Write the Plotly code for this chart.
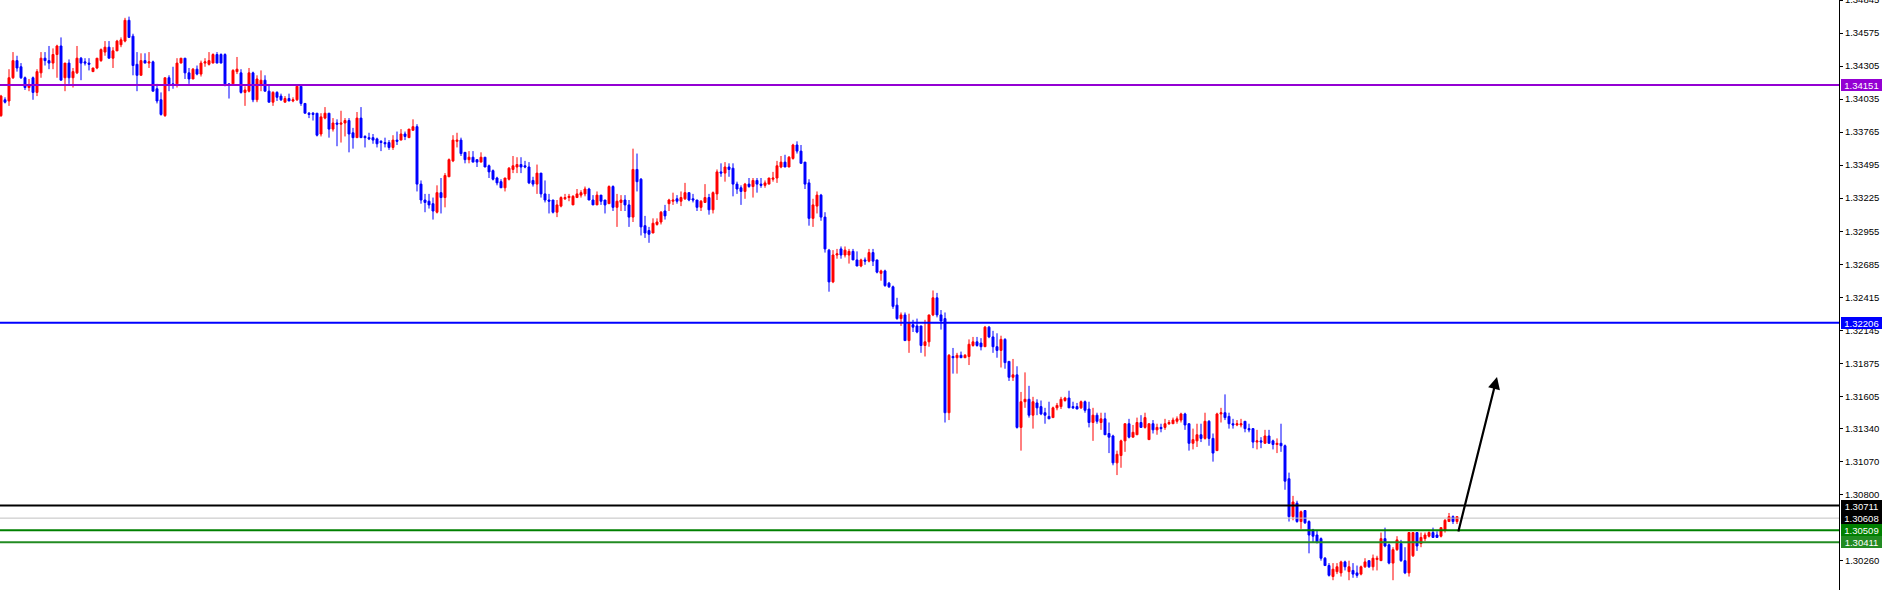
import plotly.graph_objects as go

# ---- OHLC data ----
open_ = [1.3390,1.3403,1.3402,1.3421,1.3435,1.3430,1.3421,1.3413,1.3421,1.3409,
1.3425,1.3437,1.3435,1.3433,1.3440,1.3447,1.3421,1.3433,1.3421,1.3425,
1.3437,1.3434,1.3433,1.3426,1.3429,1.3435,1.3442,1.3446,1.3437,1.3443,
1.3448,1.3451,1.3468,1.3455,1.3432,1.3423,1.3435,1.3433,1.3434,1.3412,
1.3403,1.3390,1.3421,1.3416,1.3416,1.3433,1.3437,1.3425,1.3420,1.3428,
1.3424,1.3433,1.3432,1.3433,1.3440,1.3440,1.3440,1.3416,1.3416,1.3426,
1.3425,1.3409,1.3410,1.3425,1.3403,1.3415,1.3419,1.3410,1.3401,1.3409,
1.3406,1.3401,1.3404,1.3402,1.3403,1.3414,1.3400,1.3392,1.3392,1.3392,
1.3375,1.3388,1.3392,1.3379,1.3384,1.3383,1.3384,1.3386,1.3376,1.3372,
1.3388,1.3373,1.3372,1.3372,1.3371,1.3369,1.3368,1.3368,1.3364,1.3370,
1.3370,1.3375,1.3372,1.3378,1.3381,1.3334,1.3321,1.3320,1.3318,1.3311,
1.3327,1.3323,1.3340,1.3353,1.3369,1.3370,1.3360,1.3354,1.3356,1.3354,
1.3352,1.3356,1.3349,1.3345,1.3339,1.3336,1.3331,1.3338,1.3346,1.3348,
1.3350,1.3349,1.3348,1.3337,1.3334,1.3343,1.3326,1.3321,1.3321,1.3311,
1.3316,1.3322,1.3323,1.3317,1.3323,1.3325,1.3326,1.3330,1.3321,1.3317,
1.3325,1.3321,1.3318,1.3332,1.3315,1.3319,1.3321,1.3317,1.3307,1.3346,
1.3338,1.3300,1.3296,1.3294,1.3301,1.3303,1.3312,1.3318,1.3320,1.3322,
1.3320,1.3322,1.3327,1.3322,1.3321,1.3315,1.3319,1.3323,1.3313,1.3326,
1.3344,1.3343,1.3348,1.3347,1.3334,1.3331,1.3328,1.3334,1.3332,1.3337,
1.3334,1.3333,1.3334,1.3338,1.3339,1.3348,1.3352,1.3348,1.3355,1.3366,
1.3361,1.3352,1.3335,1.3306,1.3316,1.3325,1.3307,1.3280,1.3254,1.3276,
1.3281,1.3276,1.3276,1.3279,1.3272,1.3267,1.3272,1.3271,1.3278,1.3272,
1.3261,1.3263,1.3253,1.3250,1.3235,1.3224,1.3227,1.3206,1.3219,1.3218,
1.3218,1.3202,1.3205,1.3227,1.3241,1.3227,1.3224,1.3147,1.3193,1.3192,
1.3194,1.3192,1.3193,1.3202,1.3205,1.3204,1.3201,1.3217,1.3209,1.3201,
1.3198,1.3207,1.3189,1.3176,1.3178,1.3135,1.3156,1.3158,1.3145,1.3155,
1.3152,1.3147,1.3144,1.3143,1.3151,1.3152,1.3157,1.3159,1.3152,1.3152,
1.3151,1.3156,1.3150,1.3139,1.3145,1.3139,1.3142,1.3130,1.3128,1.3106,
1.3112,1.3124,1.3138,1.3127,1.3129,1.3139,1.3135,1.3125,1.3138,1.3133,
1.3135,1.3135,1.3138,1.3138,1.3140,1.3141,1.3146,1.3138,1.3122,1.3124,
1.3129,1.3126,1.3140,1.3126,1.3116,1.3146,1.3147,1.3144,1.3138,1.3137,
1.3137,1.3140,1.3134,1.3134,1.3123,1.3124,1.3122,1.3128,1.3124,1.3121,
1.3122,1.3120,1.3093,1.3062,1.3073,1.3058,1.3067,1.3058,1.3051,1.3047,
1.3044,1.3028,1.3022,1.3013,1.3017,1.3016,1.3025,1.3017,1.3018,1.3016,
1.3015,1.3021,1.3026,1.3021,1.3027,1.3026,1.3044,1.3039,1.3024,1.3035,
1.3040,1.3026,1.3016,1.3030,1.3049,1.3040,1.3044,1.3046,1.3049,1.3047,
1.3046,1.3051,1.3058,1.3062,1.3058]

high = [1.3407,1.3405,1.3428,1.3442,1.3439,1.3433,1.3422,1.3420,1.3422,1.3428,
1.3442,1.3442,1.3447,1.3445,1.3448,1.3454,1.3433,1.3436,1.3429,1.3447,
1.3438,1.3437,1.3437,1.3429,1.3437,1.3445,1.3451,1.3451,1.3446,1.3452,
1.3454,1.3470,1.3471,1.3457,1.3442,1.3441,1.3441,1.3442,1.3435,1.3416,
1.3409,1.3421,1.3423,1.3430,1.3437,1.3437,1.3437,1.3429,1.3429,1.3431,
1.3435,1.3437,1.3442,1.3441,1.3442,1.3441,1.3441,1.3416,1.3428,1.3438,
1.3428,1.3414,1.3429,1.3426,1.3423,1.3427,1.3423,1.3415,1.3410,1.3410,
1.3408,1.3406,1.3408,1.3405,1.3415,1.3414,1.3400,1.3393,1.3393,1.3392,
1.3392,1.3397,1.3392,1.3388,1.3387,1.3394,1.3388,1.3388,1.3380,1.3393,
1.3397,1.3374,1.3376,1.3375,1.3372,1.3370,1.3372,1.3370,1.3374,1.3377,
1.3379,1.3377,1.3379,1.3387,1.3383,1.3337,1.3326,1.3326,1.3323,1.3333,
1.3339,1.3343,1.3355,1.3374,1.3376,1.3372,1.3360,1.3361,1.3361,1.3354,
1.3360,1.3356,1.3350,1.3346,1.3340,1.3338,1.3339,1.3348,1.3357,1.3356,
1.3356,1.3353,1.3352,1.3340,1.3350,1.3343,1.3337,1.3326,1.3321,1.3321,
1.3324,1.3326,1.3326,1.3325,1.3330,1.3329,1.3332,1.3331,1.3325,1.3328,
1.3325,1.3321,1.3333,1.3333,1.3326,1.3325,1.3325,1.3321,1.3363,1.3359,
1.3339,1.3308,1.3299,1.3306,1.3306,1.3312,1.3317,1.3322,1.3327,1.3325,
1.3328,1.3335,1.3327,1.3326,1.3321,1.3321,1.3334,1.3326,1.3328,1.3346,
1.3351,1.3352,1.3351,1.3351,1.3336,1.3333,1.3335,1.3339,1.3339,1.3339,
1.3339,1.3337,1.3339,1.3344,1.3353,1.3357,1.3358,1.3357,1.3367,1.3369,
1.3366,1.3352,1.3338,1.3322,1.3328,1.3326,1.3311,1.3281,1.3280,1.3281,
1.3283,1.3283,1.3281,1.3281,1.3279,1.3273,1.3274,1.3281,1.3281,1.3272,
1.3264,1.3264,1.3254,1.3251,1.3241,1.3229,1.3229,1.3228,1.3223,1.3224,
1.3218,1.3223,1.3227,1.3247,1.3245,1.3231,1.3229,1.3195,1.3200,1.3196,
1.3197,1.3195,1.3207,1.3209,1.3209,1.3208,1.3218,1.3218,1.3214,1.3212,
1.3210,1.3208,1.3189,1.3191,1.3185,1.3164,1.3180,1.3169,1.3160,1.3158,
1.3157,1.3151,1.3156,1.3152,1.3155,1.3160,1.3160,1.3165,1.3156,1.3155,
1.3157,1.3157,1.3156,1.3151,1.3147,1.3147,1.3147,1.3139,1.3129,1.3116,
1.3125,1.3138,1.3142,1.3137,1.3143,1.3145,1.3147,1.3138,1.3141,1.3138,
1.3138,1.3142,1.3141,1.3143,1.3144,1.3147,1.3147,1.3138,1.3134,1.3138,
1.3138,1.3147,1.3141,1.3130,1.3147,1.3151,1.3162,1.3147,1.3142,1.3141,
1.3142,1.3140,1.3138,1.3134,1.3133,1.3127,1.3133,1.3133,1.3125,1.3126,
1.3138,1.3121,1.3098,1.3079,1.3075,1.3067,1.3067,1.3059,1.3052,1.3051,
1.3045,1.3029,1.3024,1.3024,1.3024,1.3026,1.3026,1.3026,1.3024,1.3022,
1.3022,1.3028,1.3026,1.3031,1.3030,1.3049,1.3053,1.3040,1.3037,1.3046,
1.3043,1.3037,1.3049,1.3049,1.3049,1.3049,1.3049,1.3050,1.3053,1.3050,
1.3053,1.3060,1.3065,1.3063,1.3062]

low = [1.3389,1.3400,1.3398,1.3420,1.3426,1.3420,1.3411,1.3410,1.3403,1.3406,
1.3421,1.3431,1.3428,1.3428,1.3421,1.3419,1.3410,1.3416,1.3413,1.3424,
1.3419,1.3431,1.3427,1.3426,1.3428,1.3434,1.3439,1.3437,1.3429,1.3446,
1.3446,1.3450,1.3454,1.3423,1.3410,1.3423,1.3433,1.3429,1.3410,1.3400,
1.3390,1.3389,1.3410,1.3412,1.3413,1.3433,1.3420,1.3416,1.3420,1.3423,
1.3422,1.3430,1.3431,1.3433,1.3433,1.3433,1.3414,1.3404,1.3415,1.3424,
1.3408,1.3398,1.3409,1.3401,1.3401,1.3410,1.3410,1.3401,1.3398,1.3402,
1.3402,1.3401,1.3402,1.3401,1.3402,1.3398,1.3392,1.3388,1.3386,1.3373,
1.3373,1.3387,1.3372,1.3377,1.3365,1.3368,1.3373,1.3360,1.3363,1.3372,
1.3372,1.3364,1.3370,1.3367,1.3364,1.3361,1.3364,1.3362,1.3362,1.3366,
1.3370,1.3370,1.3372,1.3378,1.3328,1.3318,1.3311,1.3314,1.3305,1.3310,
1.3310,1.3315,1.3340,1.3352,1.3364,1.3357,1.3351,1.3351,1.3352,1.3348,
1.3352,1.3348,1.3339,1.3337,1.3333,1.3331,1.3328,1.3337,1.3343,1.3343,
1.3343,1.3347,1.3334,1.3332,1.3326,1.3323,1.3319,1.3310,1.3310,1.3307,
1.3315,1.3321,1.3320,1.3317,1.3323,1.3323,1.3324,1.3321,1.3317,1.3317,
1.3317,1.3310,1.3318,1.3312,1.3299,1.3312,1.3312,1.3299,1.3303,1.3328,
1.3292,1.3290,1.3286,1.3294,1.3300,1.3301,1.3305,1.3312,1.3317,1.3318,
1.3316,1.3321,1.3320,1.3319,1.3312,1.3312,1.3319,1.3309,1.3310,1.3321,
1.3340,1.3336,1.3340,1.3324,1.3326,1.3317,1.3322,1.3331,1.3323,1.3327,
1.3331,1.3331,1.3334,1.3336,1.3335,1.3347,1.3348,1.3348,1.3354,1.3359,
1.3351,1.3330,1.3300,1.3299,1.3310,1.3304,1.3278,1.3246,1.3253,1.3273,
1.3273,1.3274,1.3269,1.3272,1.3267,1.3266,1.3268,1.3270,1.3267,1.3261,
1.3255,1.3250,1.3249,1.3232,1.3223,1.3218,1.3206,1.3196,1.3213,1.3212,
1.3196,1.3193,1.3201,1.3226,1.3225,1.3215,1.3139,1.3141,1.3179,1.3179,
1.3192,1.3192,1.3186,1.3201,1.3201,1.3198,1.3201,1.3208,1.3196,1.3192,
1.3184,1.3183,1.3173,1.3173,1.3134,1.3116,1.3151,1.3143,1.3134,1.3145,
1.3145,1.3138,1.3142,1.3143,1.3149,1.3150,1.3156,1.3151,1.3150,1.3150,
1.3150,1.3147,1.3135,1.3124,1.3138,1.3133,1.3129,1.3114,1.3104,1.3096,
1.3102,1.3115,1.3126,1.3127,1.3129,1.3135,1.3134,1.3125,1.3130,1.3129,
1.3131,1.3133,1.3137,1.3138,1.3138,1.3139,1.3133,1.3116,1.3117,1.3119,
1.3123,1.3125,1.3120,1.3107,1.3116,1.3139,1.3141,1.3134,1.3134,1.3136,
1.3135,1.3131,1.3131,1.3118,1.3117,1.3118,1.3122,1.3122,1.3117,1.3114,
1.3115,1.3084,1.3058,1.3059,1.3057,1.3052,1.3056,1.3032,1.3041,1.3040,
1.3026,1.3022,1.3013,1.3010,1.3015,1.3013,1.3018,1.3010,1.3012,1.3012,
1.3014,1.3020,1.3020,1.3018,1.3018,1.3026,1.3037,1.3023,1.3010,1.3034,
1.3025,1.3015,1.3013,1.3029,1.3034,1.3037,1.3042,1.3045,1.3045,1.3045,
1.3045,1.3049,1.3058,1.3056,1.3056]

close = [1.3406,1.3401,1.3421,1.3435,1.3429,1.3421,1.3413,1.3415,1.3409,1.3426,
1.3437,1.3435,1.3433,1.3440,1.3447,1.3419,1.3433,1.3421,1.3426,1.3437,
1.3433,1.3433,1.3432,1.3429,1.3437,1.3444,1.3446,1.3437,1.3443,1.3451,
1.3452,1.3468,1.3454,1.3431,1.3423,1.3435,1.3433,1.3434,1.3410,1.3402,
1.3391,1.3421,1.3416,1.3415,1.3433,1.3437,1.3425,1.3420,1.3428,1.3424,
1.3433,1.3434,1.3435,1.3440,1.3433,1.3433,1.3416,1.3415,1.3427,1.3428,
1.3409,1.3411,1.3425,1.3403,1.3420,1.3419,1.3410,1.3401,1.3409,1.3405,
1.3403,1.3404,1.3402,1.3403,1.3414,1.3400,1.3392,1.3391,1.3391,1.3374,
1.3389,1.3392,1.3379,1.3384,1.3383,1.3384,1.3386,1.3375,1.3372,1.3388,
1.3372,1.3372,1.3371,1.3370,1.3367,1.3368,1.3367,1.3364,1.3370,1.3369,
1.3375,1.3373,1.3379,1.3381,1.3334,1.3321,1.3319,1.3317,1.3312,1.3327,
1.3323,1.3341,1.3354,1.3370,1.3370,1.3359,1.3354,1.3356,1.3352,1.3352,
1.3356,1.3348,1.3344,1.3338,1.3335,1.3331,1.3339,1.3347,1.3349,1.3350,
1.3348,1.3348,1.3335,1.3334,1.3343,1.3326,1.3321,1.3320,1.3311,1.3317,
1.3323,1.3323,1.3324,1.3324,1.3326,1.3327,1.3330,1.3321,1.3317,1.3325,
1.3320,1.3317,1.3332,1.3315,1.3320,1.3321,1.3317,1.3307,1.3346,1.3336,
1.3299,1.3294,1.3293,1.3302,1.3303,1.3311,1.3308,1.3321,1.3321,1.3320,
1.3323,1.3327,1.3321,1.3321,1.3315,1.3320,1.3323,1.3313,1.3327,1.3344,
1.3343,1.3348,1.3346,1.3334,1.3330,1.3328,1.3334,1.3332,1.3337,1.3334,
1.3333,1.3335,1.3339,1.3339,1.3349,1.3352,1.3348,1.3356,1.3366,1.3361,
1.3351,1.3334,1.3306,1.3317,1.3325,1.3307,1.3281,1.3254,1.3276,1.3277,
1.3276,1.3280,1.3279,1.3272,1.3267,1.3272,1.3271,1.3278,1.3271,1.3262,
1.3263,1.3251,1.3250,1.3234,1.3224,1.3227,1.3206,1.3220,1.3217,1.3213,
1.3202,1.3205,1.3227,1.3241,1.3227,1.3222,1.3147,1.3194,1.3192,1.3194,
1.3192,1.3194,1.3203,1.3205,1.3202,1.3201,1.3217,1.3209,1.3201,1.3198,
1.3207,1.3188,1.3176,1.3178,1.3135,1.3156,1.3158,1.3145,1.3156,1.3151,
1.3146,1.3145,1.3142,1.3151,1.3153,1.3158,1.3159,1.3151,1.3151,1.3150,
1.3156,1.3149,1.3139,1.3145,1.3140,1.3142,1.3129,1.3127,1.3106,1.3113,
1.3124,1.3138,1.3127,1.3131,1.3139,1.3135,1.3143,1.3138,1.3133,1.3135,
1.3134,1.3138,1.3139,1.3141,1.3142,1.3146,1.3137,1.3122,1.3125,1.3129,
1.3126,1.3140,1.3126,1.3114,1.3146,1.3147,1.3143,1.3138,1.3137,1.3138,
1.3138,1.3134,1.3133,1.3123,1.3124,1.3123,1.3128,1.3122,1.3121,1.3122,
1.3120,1.3091,1.3062,1.3074,1.3058,1.3066,1.3057,1.3047,1.3046,1.3041,
1.3028,1.3022,1.3014,1.3019,1.3021,1.3025,1.3021,1.3021,1.3015,1.3014,
1.3021,1.3025,1.3021,1.3028,1.3028,1.3044,1.3038,1.3024,1.3035,1.3043,
1.3026,1.3016,1.3049,1.3049,1.3038,1.3045,1.3047,1.3049,1.3045,1.3045,
1.3053,1.3059,1.3062,1.3058,1.3062]

bar_index = list(range(len(close)))

# ---- horizontal levels ----
level_prices = [1.34151, 1.32206, 1.30711, 1.30608, 1.30509, 1.30411]
level_labels = ["1.34151", "1.32206", "1.30711", "1.30608", "1.30509", "1.30411"]
level_line_colors = ["#9400D3", "#0000FF", "#000000", "#C0C0C0", "#008000", "#228B22"]
level_label_colors = ["#9400D3", "#0000FF", "#000000", "#000000", "#008000", "#228B22"]
level_widths = [2, 2, 2, 1, 2, 2]

# ---- axis ticks ----
tick_values = [1.34845, 1.34575, 1.34305, 1.34035, 1.33765, 1.33495, 1.33225, 1.32955,
               1.32685, 1.32415, 1.32145, 1.31875, 1.31605, 1.31340, 1.31070, 1.30800, 1.30260]
tick_labels = ["1.34845", "1.34575", "1.34305", "1.34035", "1.33765", "1.33495", "1.33225", "1.32955",
               "1.32685", "1.32415", "1.32145", "1.31875", "1.31605", "1.31340", "1.31070", "1.30800", "1.30260"]

# ---- arrow (tail -> tip) ----
arrow_tail = (364.25, 1.30487)
arrow_tip = (374.0, 1.31762)

fig = go.Figure()
fig.add_trace(go.Candlestick(
    x=bar_index, open=open_, high=high, low=low, close=close,
    increasing=dict(line=dict(color="#FF0000", width=1), fillcolor="#FF0000"),
    decreasing=dict(line=dict(color="#0000FF", width=1), fillcolor="#0000FF"),
    whiskerwidth=0, showlegend=False, hoverinfo="skip",
))

for p, c, w in zip(level_prices, level_line_colors, level_widths):
    fig.add_shape(type="line", xref="paper", x0=0, x1=1, yref="y", y0=p, y1=p,
                  line=dict(color=c, width=w), layer="above")

for p, t, c in zip(level_prices, level_labels, level_label_colors):
    fig.add_annotation(xref="paper", x=1, xshift=2, xanchor="left", yref="y", y=p, yanchor="middle",
                       text=t, showarrow=False, bgcolor=c, width=39, height=10,
                       borderpad=1, borderwidth=0, align="center", valign="middle",
                       font=dict(family="Liberation Sans", size=9.5, color="#FFFFFF"))

fig.add_annotation(x=arrow_tip[0], y=arrow_tip[1], ax=arrow_tail[0], ay=arrow_tail[1],
                   xref="x", yref="y", axref="x", ayref="y", text="", showarrow=True,
                   arrowhead=2, arrowsize=1.1, arrowwidth=2.2, arrowcolor="#000000", standoff=0)

fig.update_layout(
    width=1886, height=590,
    margin=dict(l=0, r=47, t=0, b=0),
    paper_bgcolor="#FFFFFF", plot_bgcolor="#FFFFFF",
    showlegend=False,
    xaxis=dict(visible=False, range=[-0.25, 459.5], rangeslider=dict(visible=False), fixedrange=True),
    yaxis=dict(side="right", range=[1.30020, 1.34846], tickvals=tick_values, ticktext=tick_labels,
               showgrid=False, zeroline=False, showline=True, linecolor="#000000", linewidth=1,
               ticks="outside", ticklen=3, tickcolor="#000000", automargin=False,
               ticklabeloverflow="allow", fixedrange=True,
               tickfont=dict(family="Liberation Sans", size=9.5, color="#000000")),
)

fig.write_html("out.html", config={"displayModeBar": False, "staticPlot": True})

# remove the default page margin so the chart sits at the window's top-left corner
with open("out.html", "r", encoding="utf-8") as fh:
    page = fh.read()
page = page.replace("<head>", "<head><style>html,body{margin:0;padding:0;overflow:hidden;}</style>", 1)
with open("out.html", "w", encoding="utf-8") as fh:
    fh.write(page)
